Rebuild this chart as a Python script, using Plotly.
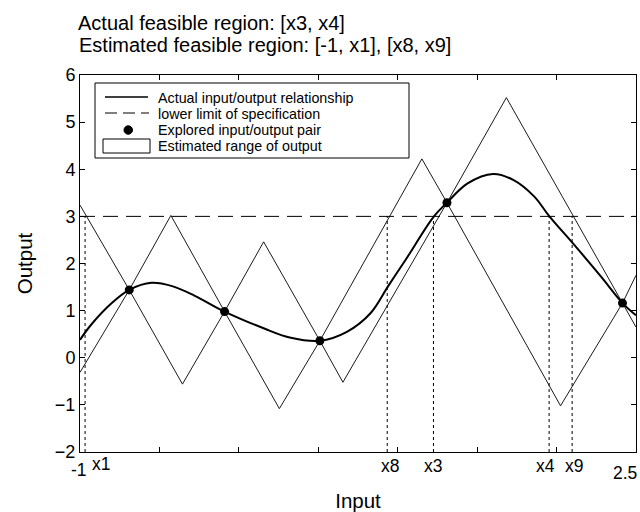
import plotly.graph_objects as go

# ---------------- data ----------------
x_range = [-1.0, 2.5]
y_range = [-2.0, 6.0]
spec_limit = 3.0

title_lines = ["Actual feasible region: [x3, x4]",
               "Estimated feasible region: [-1, x1], [x8, x9]"]

# actual input/output relationship (smooth curve)
curve_x = [-1.0, -0.93, -0.80, -0.69, -0.55, -0.42, -0.28, -0.09,
           0.16, 0.32, 0.51, 0.68, 0.83, 0.94, 1.05, 1.228, 1.31, 1.44, 1.60,
           1.73, 1.86, 1.955, 2.11, 2.28, 2.415, 2.5]
curve_y = [0.38, 0.70, 1.16, 1.44, 1.59, 1.52, 1.32, 0.98,
           0.62, 0.43, 0.36, 0.55, 0.95, 1.52, 2.08, 3.0, 3.29, 3.70, 3.90,
           3.77, 3.42, 3.0, 2.40, 1.72, 1.16, 0.90]

# explored input/output pairs
pts_x = [-0.69, -0.09, 0.51, 1.31, 2.415]
pts_y = [1.44, 0.98, 0.36, 3.29, 1.16]

# estimated range of output: upper and lower bound vertices
up_x = [-1.0, -0.69, -0.428, -0.09, 0.156, 0.51, 1.152, 1.31, 1.684, 2.415, 2.5]
up_y = [3.24, 1.44, 3.02, 0.98, 2.46, 0.36, 4.22, 3.29, 5.52, 1.16, 1.75]
lo_x = [-1.0, -0.69, -0.355, -0.09, 0.255, 0.51, 0.655, 1.31, 2.025, 2.415, 2.5]
lo_y = [-0.31, 1.44, -0.56, 0.98, -1.08, 0.36, -0.52, 3.29, -1.02, 1.16, 0.65]

# boundary markers of the feasible regions
mark_x = [-0.968, 0.934, 1.225, 1.953, 2.098]
mark_names = ["x1", "x8", "x3", "x4", "x9"]

# x tick labels
xlab_vals = [-1.0, -0.968, 0.934, 1.225, 1.953, 2.098, 2.5]
xlab_text = ["-1", "x1", "x8", "x3", "x4", "x9", "2.5"]
y_ticks = [-2, -1, 0, 1, 2, 3, 4, 5, 6]
x_minor_ticks = [-0.5, 0.0, 0.5, 1.0, 1.5, 2.0]

legend_labels = ["Actual input/output relationship",
                 "lower limit of specification",
                 "Explored input/output pair",
                 "Estimated range of output"]

# ---------------- styling / layout constants ----------------
FONT = "Liberation Sans, Arial, sans-serif"
W, H = 640, 512
L, R, T, B = 80, 4, 75, 60
PW, PH = W - L - R, H - T - B


def px(xp):
    return (xp - L) / PW


def py(yp):
    return (H - B - yp) / PH


fig = go.Figure()

# envelope (upper + lower bound lines)
fig.add_trace(go.Scatter(x=up_x, y=up_y, mode="lines",
                         line=dict(color="#1a1a1a", width=1),
                         showlegend=False, hoverinfo="skip"))
fig.add_trace(go.Scatter(x=lo_x, y=lo_y, mode="lines",
                         line=dict(color="#1a1a1a", width=1),
                         showlegend=False, hoverinfo="skip"))

# lower limit of specification
fig.add_trace(go.Scatter(x=x_range, y=[spec_limit, spec_limit], mode="lines",
                         line=dict(color="black", width=1, dash="15px,8px"),
                         showlegend=False, hoverinfo="skip"))

# vertical dotted boundary markers
vx, vy = [], []
for m in mark_x:
    vx += [m, m, None]
    vy += [y_range[0], spec_limit, None]
fig.add_trace(go.Scatter(x=vx, y=vy, mode="lines",
                         line=dict(color="black", width=1, dash="dot"),
                         showlegend=False, hoverinfo="skip"))

# actual relationship
fig.add_trace(go.Scatter(x=curve_x, y=curve_y, mode="lines",
                         line=dict(color="black", width=2, shape="spline", smoothing=1.0),
                         showlegend=False, hoverinfo="skip"))

# explored points
fig.add_trace(go.Scatter(x=pts_x, y=pts_y, mode="markers",
                         marker=dict(color="black", size=9),
                         showlegend=False, hoverinfo="skip"))

# ---------------- hand-drawn legend (MATLAB style) ----------------
row_y = [98, 114, 130, 146]
shapes = []
shapes.append(dict(type="rect", xref="paper", yref="paper",
                   x0=px(95), x1=px(409), y0=py(158), y1=py(83),
                   line=dict(color="black", width=1), fillcolor="white", layer="above"))
shapes.append(dict(type="line", xref="paper", yref="paper",
                   x0=px(105), x1=px(148), y0=py(row_y[0] - 1), y1=py(row_y[0] - 1),
                   line=dict(color="black", width=1.5), layer="above"))
shapes.append(dict(type="line", xref="paper", yref="paper",
                   x0=px(105), x1=px(149), y0=py(row_y[1] - 1), y1=py(row_y[1] - 1),
                   line=dict(color="black", width=1, dash="12px,6px"), layer="above"))
shapes.append(dict(type="circle", xref="paper", yref="paper",
                   x0=px(124), x1=px(132.5), y0=py(row_y[2] + 4.25), y1=py(row_y[2] - 4.25),
                   line=dict(color="black", width=1), fillcolor="black", layer="above"))
shapes.append(dict(type="rect", xref="paper", yref="paper",
                   x0=px(103), x1=px(150), y0=py(row_y[3] + 7), y1=py(row_y[3] - 7),
                   line=dict(color="black", width=1), fillcolor="white", layer="above"))

annotations = []
for lab, yc in zip(legend_labels, row_y):
    annotations.append(dict(text=lab, xref="paper", yref="paper",
                            x=px(157), y=py(yc), xanchor="left", yanchor="middle",
                            showarrow=False, borderpad=0,
                            font=dict(family=FONT, size=14.3, color="black")))

# x tick labels (nudged like the original print)
xshift = [-1, 16, 3, 0, -4, 1.5, -11]
ypix = [470, 463.5, 465.5, 465.5, 465.5, 465.5, 472.5]
for v, t, dx, yp in zip(xlab_vals, xlab_text, xshift, ypix):
    annotations.append(dict(text=t, xref="x", yref="paper", x=v, y=0,
                            xanchor="center", yanchor="middle",
                            xshift=dx, yshift=-(yp - (H - B)),
                            showarrow=False, font=dict(family=FONT, size=17.5, color="black")))

# second title line (tighter line spacing than plotly's default)
annotations.append(dict(text=title_lines[1], xref="paper", yref="paper",
                        x=px(78), y=py(45), xanchor="left", yanchor="middle",
                        showarrow=False, borderpad=0,
                        font=dict(family=FONT, size=20, color="black")))

fig.update_layout(
    width=W, height=H,
    margin=dict(l=L, r=R, t=T, b=B, autoexpand=False),
    paper_bgcolor="white", plot_bgcolor="white",
    font=dict(family=FONT, size=17, color="black"),
    title=dict(text=title_lines[0],
               x=78 / W, xref="container", xanchor="left",
               y=1 - 22.5 / H, yref="container", yanchor="middle",
               pad=dict(t=0, b=0, l=0, r=0),
               font=dict(family=FONT, size=20, color="black")),
    xaxis=dict(range=x_range, tickvals=x_minor_ticks, showticklabels=False,
               ticks="inside", ticklen=5, tickcolor="black",
               showline=True, linecolor="black", linewidth=1, mirror="ticks",
               showgrid=False, zeroline=False,
               title=dict(text="Input", standoff=41, font=dict(family=FONT, size=20.5)),
               automargin=False),
    yaxis=dict(range=y_range, tickvals=y_ticks,
               ticks="inside", ticklen=5, tickcolor="black",
               showline=True, linecolor="black", linewidth=1, mirror="ticks",
               showgrid=False, zeroline=False,
               tickfont=dict(family=FONT, size=18),
               title=dict(text="Output", standoff=16, font=dict(family=FONT, size=20.5)),
               automargin=False),
    shapes=shapes,
    annotations=annotations,
    showlegend=False,
)

fig.write_html("out.html")
